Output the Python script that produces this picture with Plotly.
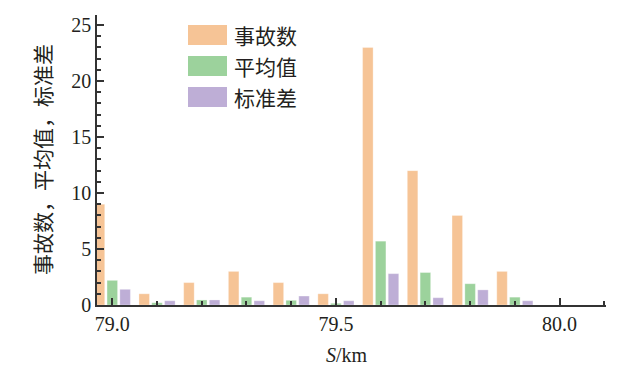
import plotly.graph_objects as go

# ---- data ----
positions = [79.0, 79.1, 79.2, 79.3, 79.4, 79.5, 79.6, 79.7, 79.8, 79.9]
accidents = [9, 1, 2, 3, 2, 1, 23, 12, 8, 3]
means = [2.2, 0.2, 0.45, 0.7, 0.42, 0.15, 5.7, 2.9, 1.9, 0.7]
stds = [1.4, 0.38, 0.45, 0.38, 0.8, 0.38, 2.8, 0.65, 1.35, 0.38]
series_names = ["事故数", "平均值", "标准差"]
colors = ["#F6C496", "#9CD29C", "#BEAED6"]

W, H = 642, 384
L, R, T, B = 97, 36, 15, 79
pw, ph = W - L - R, H - T - B

def px(x):
    return (x - L) / pw

def py(y):
    return (H - B - y) / ph

fig = go.Figure()
for name, vals, c in zip(series_names, [accidents, means, stds], colors):
    fig.add_trace(go.Bar(x=positions, y=vals, name=name, marker_color=c,
                         marker_line=dict(color="rgba(255,255,255,0.6)", width=0.5),
                         showlegend=False))

serif = "'Liberation Serif', 'Times New Roman', serif"
cjk = "'Noto Sans CJK SC', sans-serif"
axc = "#333333"
txt = "#231f20"

fig.update_layout(
    width=W, height=H,
    margin=dict(l=L, r=R, t=T, b=B),
    paper_bgcolor="white", plot_bgcolor="white",
    barmode="group", bargap=0.14, bargroupgap=0.18,
    font=dict(family=serif, size=20, color=txt),
    xaxis=dict(range=[78.9658, 80.1038], tick0=79.0, dtick=0.5, tickformat=".1f",
               ticks="inside", ticklen=7, tickwidth=1.5, tickcolor=axc,
               minor=dict(dtick=0.1, tick0=79.0, ticks="inside", ticklen=4, tickwidth=1.5, tickcolor=axc),
               showline=True, linecolor=axc, linewidth=1.5, showgrid=False, zeroline=False,
               tickfont=dict(family=serif, size=20, color=txt)),
    yaxis=dict(range=[0, 25.9], tick0=0, dtick=5,
               ticks="inside", ticklen=7, tickwidth=1.5, tickcolor=axc,
               minor=dict(dtick=1, ticks="inside", ticklen=4, tickwidth=1.5, tickcolor=axc),
               showline=True, linecolor=axc, linewidth=1.5, showgrid=False, zeroline=False,
               tickfont=dict(family=serif, size=20, color=txt)),
)

ann = []
ann.append(dict(text="事故数，平均值，标准差", textangle=-90, xref="paper", yref="paper",
                x=px(42), y=py(160), showarrow=False, font=dict(family=cjk, size=21, color=txt),
                xanchor="center", yanchor="middle"))
ann.append(dict(text="<i>S</i>/km", xref="paper", yref="paper", x=px(347), y=py(355),
                showarrow=False, font=dict(family=serif, size=20, color=txt),
                xanchor="center", yanchor="middle"))

shapes = []
row_tops = [25, 56, 87]
for name, c, top in zip(series_names, colors, row_tops):
    shapes.append(dict(type="rect", xref="paper", yref="paper",
                       x0=px(188), x1=px(227), y0=py(top + 20), y1=py(top),
                       fillcolor=c, line=dict(width=0)))
    ann.append(dict(text=name, xref="paper", yref="paper", x=px(232), y=py(top + 10),
                    showarrow=False, xanchor="left", yanchor="middle",
                    font=dict(family=cjk, size=21, color=txt)))

fig.update_layout(annotations=ann, shapes=shapes)
fig.write_html("out.html")
